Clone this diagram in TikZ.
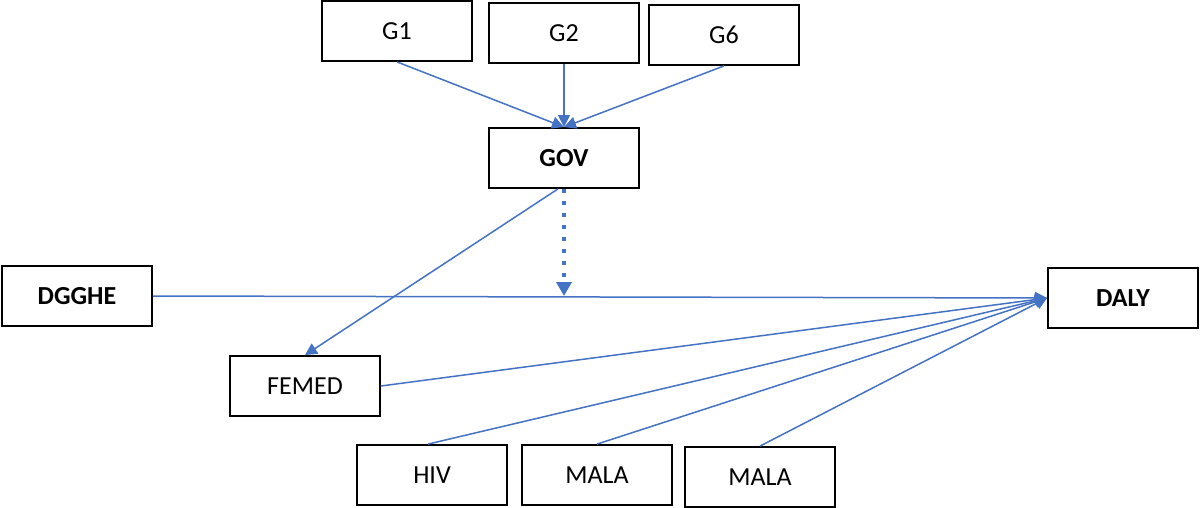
\documentclass[tikz,border=0pt]{standalone}
\usepackage{fontspec}
\setmainfont{Carlito}
\usepackage{xcolor}
\usetikzlibrary{arrows.meta, positioning}
\definecolor{lineblue}{HTML}{4472C4}

\begin{document}
\begin{tikzpicture}[
  x=0.5pt, y=-0.5pt,
  box/.style={draw, line width=0.9pt, minimum width=75pt, minimum height=30pt, align=center, font=\fontsize{13}{15}\selectfont, inner sep=0pt},
  boldbox/.style={box, font=\fontsize{13}{15}\selectfont\bfseries},
  arr/.style={-{Triangle[length=6pt, width=6pt]}, lineblue, line width=0.75pt},
  dotarr/.style={-{Triangle[length=7pt, width=7.5pt]}, lineblue, line width=2pt, dash pattern=on 2pt off 4pt}
]
\useasboundingbox (0,0) rectangle (1200,508);

% top row
\node[box] (g1) at (397,31) {G1};
\node[box] (g2) at (564,33) {G2};
\node[box] (g6) at (724,35) {G6};
\node[boldbox] (gov) at (564,158) {GOV};

% middle row
\node[boldbox] (dgghe) at (77,296) {DGGHE};
\node[boldbox] (daly) at (1123,298) {DALY};
\node[box] (femed) at (305,386) {FEMED};

% bottom row
\node[box] (hiv) at (432,475) {HIV};
\node[box] (mala1) at (597,475) {MALA};
\node[box] (mala2) at (760,477) {MALA};

\draw[arr] (g1.south)--(gov.north); \draw[arr] (g2.south)--(gov.north); \draw[arr] (g6.south)--(gov.north);
\draw[arr] ([xshift=-3pt]gov.south)--(femed.north);

\draw[arr] (dgghe.east)--(daly.west);
\coordinate (mid) at (gov.south |- dgghe.east);
\draw[dotarr] (gov.south)--(mid);

\draw[arr] (femed.east)--(daly.west);
\draw[arr] ([xshift=-2pt]hiv.north)--(daly.west);
\draw[arr] (mala1.north)--(daly.west);
\draw[arr] (mala2.north)--(daly.west);
\end{tikzpicture}
\end{document}
